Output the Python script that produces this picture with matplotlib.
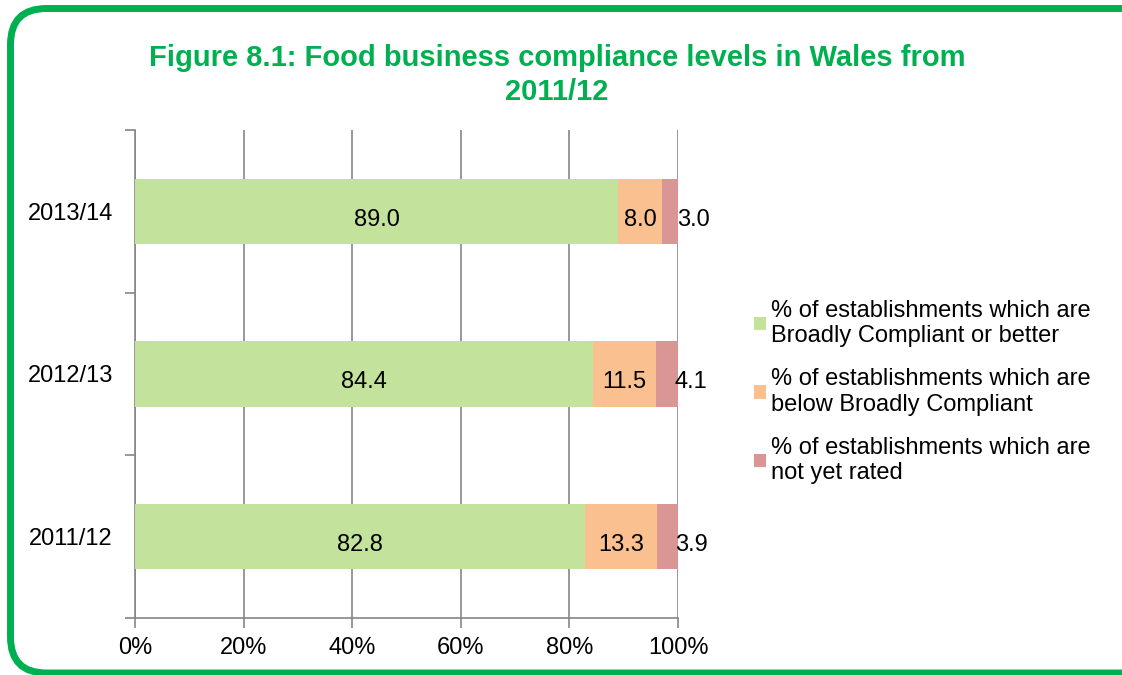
import matplotlib.pyplot as plt
from matplotlib.patches import FancyBboxPatch
from matplotlib.ticker import FuncFormatter

plt.rcParams['font.family'] = ['Liberation Sans', 'DejaVu Sans']

# data
years = ['2011/12', '2012/13', '2013/14']
compliant = [82.8, 84.4, 89.0]
below = [13.3, 11.5, 8.0]
not_rated = [3.9, 4.1, 3.0]
series_names = ['% of establishments which are\nBroadly Compliant or better',
                '% of establishments which are\nbelow Broadly Compliant',
                '% of establishments which are\nnot yet rated']
colors = ['#C3E29C', '#FAC090', '#D99694']
green = '#00B050'
grey = '#868686'

fig = plt.figure(figsize=(11.22, 6.75), dpi=100)

# rounded green frame (pixel coords)
frame = FancyBboxPatch((10.5, 2), 1200, 664.5,
                       boxstyle='round,pad=0,rounding_size=36',
                       transform=None, fill=False,
                       edgecolor=green, linewidth=5, clip_on=False)
fig.patches.append(frame)

fig.text(557 / 1122, 1 - 58 / 675, 'Figure 8.1: Food business compliance levels in Wales from',
         ha='center', va='center', color=green, fontsize=21, fontweight='bold')
fig.text(557 / 1122, 1 - 92 / 675, '2011/12',
         ha='center', va='center', color=green, fontsize=21, fontweight='bold')

ax = fig.add_axes([135 / 1122, 1 - 618 / 675, 543 / 1122, 488 / 675])

y = range(len(years))
left = [0] * len(years)
all_vals = [compliant, below, not_rated]
for k, vals in enumerate(all_vals):
    bars = ax.barh(y, vals, left=left, height=0.4, color=colors[k],
                   label=series_names[k], zorder=3)
    for i, b in enumerate(bars):
        cx = b.get_x() + b.get_width() / 2
        dx = 17 if k == 2 else 0
        ax.annotate(f'{vals[i]:.1f}', (cx, i), xytext=(dx, -6),
                    textcoords='offset points', ha='center', va='center',
                    fontsize=17, zorder=4)
    left = [l + v for l, v in zip(left, vals)]

ax.set_xlim(0, 100)
ax.set_ylim(-0.5, 2.5)
ax.set_xticks(range(0, 101, 20))
ax.xaxis.set_major_formatter(FuncFormatter(lambda v, p: f'{v:.0f}%'))
ax.set_yticks(list(y))
ax.set_yticklabels(years)
ax.set_yticks([-0.5, 0.5, 1.5, 2.5], minor=True)
ax.tick_params(axis='y', which='major', length=0, pad=16, labelsize=17)
ax.tick_params(axis='y', which='minor', length=7, color=grey, width=1.2)
ax.tick_params(axis='x', length=7, color=grey, width=1.2, labelsize=17, pad=7)
ax.grid(axis='x', color=grey, linewidth=1.2, zorder=0)
for s in ['top', 'right']:
    ax.spines[s].set_visible(False)
for s in ['left', 'bottom']:
    ax.spines[s].set_color(grey)
    ax.spines[s].set_linewidth(1.2)

ax.legend(loc='center left', bbox_to_anchor=(733 / 1122, 1 - 392 / 675),
          bbox_transform=fig.transFigure, frameon=False, fontsize=17,
          handlelength=0.5, handleheight=0.5, handletextpad=0.2,
          labelspacing=0.9)

fig.savefig('out.png', dpi=100)
